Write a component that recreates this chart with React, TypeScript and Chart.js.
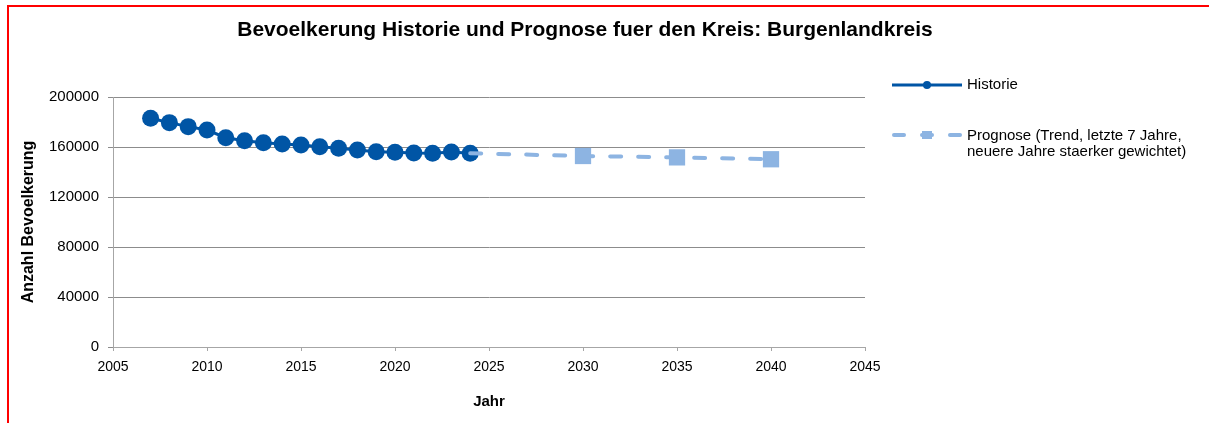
import React, { useEffect, useRef } from "react";
import { Chart, registerables } from "chart.js";

Chart.register(...registerables);

const FONT = '"Liberation Sans", Arial, sans-serif';

const TITLE = "Bevoelkerung Historie und Prognose fuer den Kreis: Burgenlandkreis";
const X_TITLE = "Jahr";
const Y_TITLE = "Anzahl Bevoelkerung";

const historyYears = [2007, 2008, 2009, 2010, 2011, 2012, 2013, 2014, 2015, 2016, 2017, 2018, 2019, 2020, 2021, 2022, 2023, 2024];
const historyValues = [183000, 179500, 176300, 173600, 167400, 165000, 163400, 162400, 161600, 160200, 159000, 157600, 156200, 155800, 155200, 155000, 156000, 155000];

const forecastYears = [2024, 2030, 2035, 2040];
const forecastValues = [155000, 152800, 151700, 150200];
const forecastMarkerShown = [false, true, true, true];

const xTicks = [2005, 2010, 2015, 2020, 2025, 2030, 2035, 2040, 2045];
const yTicks = [0, 40000, 80000, 120000, 160000, 200000];

const legendHistory = "Historie";
const legendForecast = ["Prognose (Trend, letzte 7 Jahre,", "neuere Jahre staerker gewichtet)"];

const DARK = "#0055a5";
const LIGHT = "#8db4e2";

const overlayPlugin = {
  id: "overlay",
  afterDraw(chart: any) {
    const ctx = chart.ctx as CanvasRenderingContext2D;
    ctx.save();
    // title
    ctx.fillStyle = "#000";
    ctx.font = `bold 21px ${FONT}`;
    ctx.textAlign = "center";
    ctx.textBaseline = "middle";
    ctx.fillText(TITLE, 576, 23);

    // legend: Historie
    ctx.strokeStyle = DARK;
    ctx.lineWidth = 3;
    ctx.beginPath();
    ctx.moveTo(883, 78);
    ctx.lineTo(953, 78);
    ctx.stroke();
    ctx.fillStyle = DARK;
    ctx.beginPath();
    ctx.arc(918, 78, 4, 0, Math.PI * 2);
    ctx.fill();

    // legend: Prognose
    ctx.strokeStyle = LIGHT;
    ctx.lineWidth = 4;
    ctx.lineCap = "round";
    const segs: [number, number][] = [
      [885, 895],
      [913, 923],
      [941, 951],
    ];
    segs.forEach(([a, b]) => {
      ctx.beginPath();
      ctx.moveTo(a, 128);
      ctx.lineTo(b, 128);
      ctx.stroke();
    });
    ctx.fillStyle = LIGHT;
    ctx.fillRect(913, 124, 10, 8);

    ctx.fillStyle = "#000";
    ctx.font = `15px ${FONT}`;
    ctx.textAlign = "left";
    ctx.textBaseline = "middle";
    ctx.fillText(legendHistory, 958, 78);
    legendForecast.forEach((line, i) => ctx.fillText(line, 958, 129 + i * 15.5));
    ctx.restore();
  },
};

export default function App() {
  const ref = useRef<HTMLCanvasElement | null>(null);

  useEffect(() => {
    if (!ref.current) return;
    const chart = new Chart(ref.current, {
      type: "line",
      data: {
        datasets: [
          {
            label: legendForecast.join(" "),
            data: forecastYears.map((x, i) => ({ x, y: forecastValues[i] })),
            borderColor: LIGHT,
            backgroundColor: LIGHT,
            borderWidth: 4,
            borderDash: [11, 17],
            borderCapStyle: "round",
            pointStyle: "rect",
            pointRadius: forecastMarkerShown.map((s) => (s ? 11.5 : 0)),
            pointBorderWidth: 0,
            pointBackgroundColor: LIGHT,
            order: 0,
          },
          {
            label: legendHistory,
            data: historyYears.map((x, i) => ({ x, y: historyValues[i] })),
            borderColor: DARK,
            backgroundColor: DARK,
            borderWidth: 3,
            pointStyle: "circle",
            pointRadius: 8.5,
            pointBorderWidth: 0,
            pointBackgroundColor: DARK,
            order: 1,
          },
        ],
      },
      options: {
        animation: false,
        responsive: false,
        devicePixelRatio: 1,
        layout: { padding: { top: 90, right: 344, bottom: 0, left: 0 } },
        plugins: {
          legend: { display: false },
          title: { display: false },
          tooltip: { enabled: false },
        },
        font: { family: FONT },
        scales: {
          x: {
            type: "linear",
            min: 2005,
            max: 2045,
            afterBuildTicks: (scale: any) => {
              scale.ticks = xTicks.map((v) => ({ value: v }));
            },
            afterFit: (scale: any) => {
              scale.height = 76;
            },
            ticks: {
              callback: (v: any) => String(v),
              color: "#000",
              font: { family: FONT, size: 14 },
              padding: 8,
              maxRotation: 0,
              autoSkip: false,
            },
            grid: {
              display: true,
              drawOnChartArea: false,
              drawTicks: true,
              tickLength: 4,
              color: "#a6a6a6",
            },
            border: { display: true, color: "#a6a6a6", width: 1 },
            title: {
              display: true,
              text: X_TITLE,
              color: "#000",
              font: { family: FONT, size: 15, weight: "bold" },
              padding: { top: 0, bottom: 12 },
            },
          },
          y: {
            type: "linear",
            min: 0,
            max: 200000,
            afterBuildTicks: (scale: any) => {
              scale.ticks = yTicks.map((v) => ({ value: v }));
            },
            afterFit: (scale: any) => {
              scale.width = 104;
            },
            ticks: {
              callback: (v: any) => String(v),
              color: "#000",
              font: { family: FONT, size: 15 },
              padding: 9,
            },
            grid: {
              display: true,
              drawOnChartArea: true,
              drawTicks: true,
              tickLength: 5,
              color: "#8c8c8c",
            },
            border: { display: true, color: "#a6a6a6", width: 1 },
            title: {
              display: true,
              text: Y_TITLE,
              color: "#000",
              font: { family: FONT, size: 16, weight: "bold" },
              padding: { top: 10, bottom: 0 },
            },
          },
        },
      },
      plugins: [overlayPlugin],
    } as any);
    return () => chart.destroy();
  }, []);

  return (
    <div
      style={{
        position: "absolute",
        left: 7,
        top: 5,
        width: 1202,
        height: 418,
        borderTop: "2px solid red",
        borderLeft: "2px solid red",
        boxSizing: "border-box",
      }}
    >
      <canvas
        ref={ref}
        width={1200}
        height={416}
        style={{ position: "absolute", left: 0, top: 0, width: 1200, height: 416 }}
      />
    </div>
  );
}
